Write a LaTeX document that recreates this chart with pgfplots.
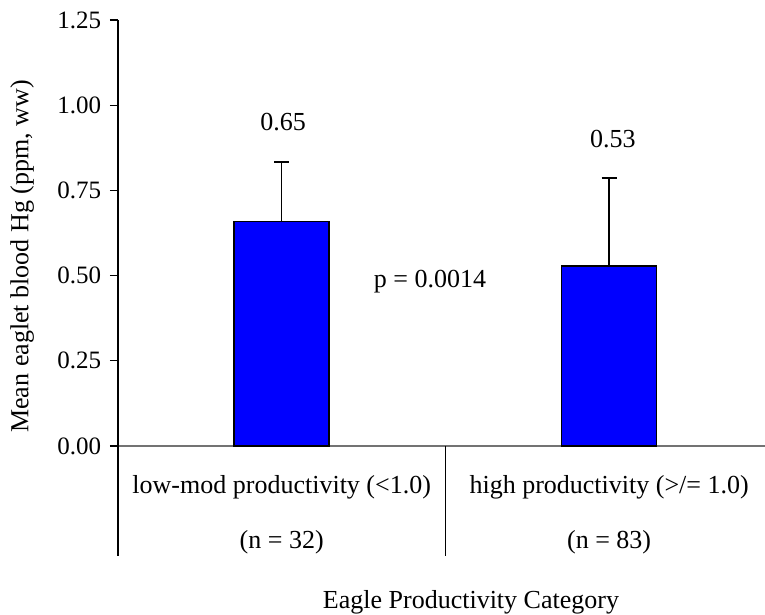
\documentclass[border=0pt]{standalone}
\usepackage{pgfplots}
\pgfplotsset{compat=1.18}
\usepackage{fontspec}
\setmainfont{Liberation Serif}
\begin{document}
\fontsize{26}{31}\selectfont
\begin{tikzpicture}
\path[use as bounding box] (0,0) rectangle (765pt,615pt);
\begin{axis}[
  at={(118pt,169pt)}, anchor=south west,
  scale only axis, width=647pt, height=426pt,
  xmin=0, xmax=1.976, ymin=0, ymax=1.25,
  axis x line=bottom, axis y line=left,
  axis line style={-},
  x axis line style={draw=black!55, line width=1.4pt},
  y axis line style={draw=black, line width=1.3pt},
  xtick=\empty,
  ytick={0,0.25,0.5,0.75,1,1.25},
  yticklabel style={font=\fontsize{25}{30}\selectfont, /pgf/number format/.cd, fixed, fixed zerofill, precision=2, assume math mode=true},
  tick align=outside, major tick length=8pt,
  y tick style={black, line width=1.3pt},
  ybar, bar width=95pt,
  clip=false,
  font=\fontsize{26}{31}\selectfont,
]
\addplot[fill={rgb,255:red,0;green,0;blue,255}, draw=black, line width=1.5pt,
  error bars/.cd, y dir=plus, y explicit,
  error bar style={black, line width=1.5pt},
  error mark options={rotate=90, mark size=7.5pt, line width=1.5pt, black}]
  coordinates {(0.5,0.658) +- (0,0.175) (1.5,0.528) +- (0,0.258)};
\draw[black, line width=1.3pt] (axis cs:0,0) -- (axis cs:0,-0.323);
\draw[black, line width=1.3pt] (axis cs:1,0) -- (axis cs:1,-0.323);
\node at (axis cs:0.504,0.951) {0.65};
\node at (axis cs:1.511,0.901) {0.53};
\node at (axis cs:0.953,0.481) {p = 0.0014};
\node at (axis cs:0.5,-0.120) {low-mod productivity (<1.0)};
\node at (axis cs:1.5,-0.120) {high productivity (>/= 1.0)};
\node at (axis cs:0.5,-0.282) {(n = 32)};
\node at (axis cs:1.5,-0.282) {(n = 83)};
\node at (axis cs:1.078,-0.458) {Eagle Productivity Category};
\node[rotate=90] at (axis cs:-0.293,0.556) {Mean eaglet blood Hg (ppm, ww)};
\end{axis}
\end{tikzpicture}
\end{document}
